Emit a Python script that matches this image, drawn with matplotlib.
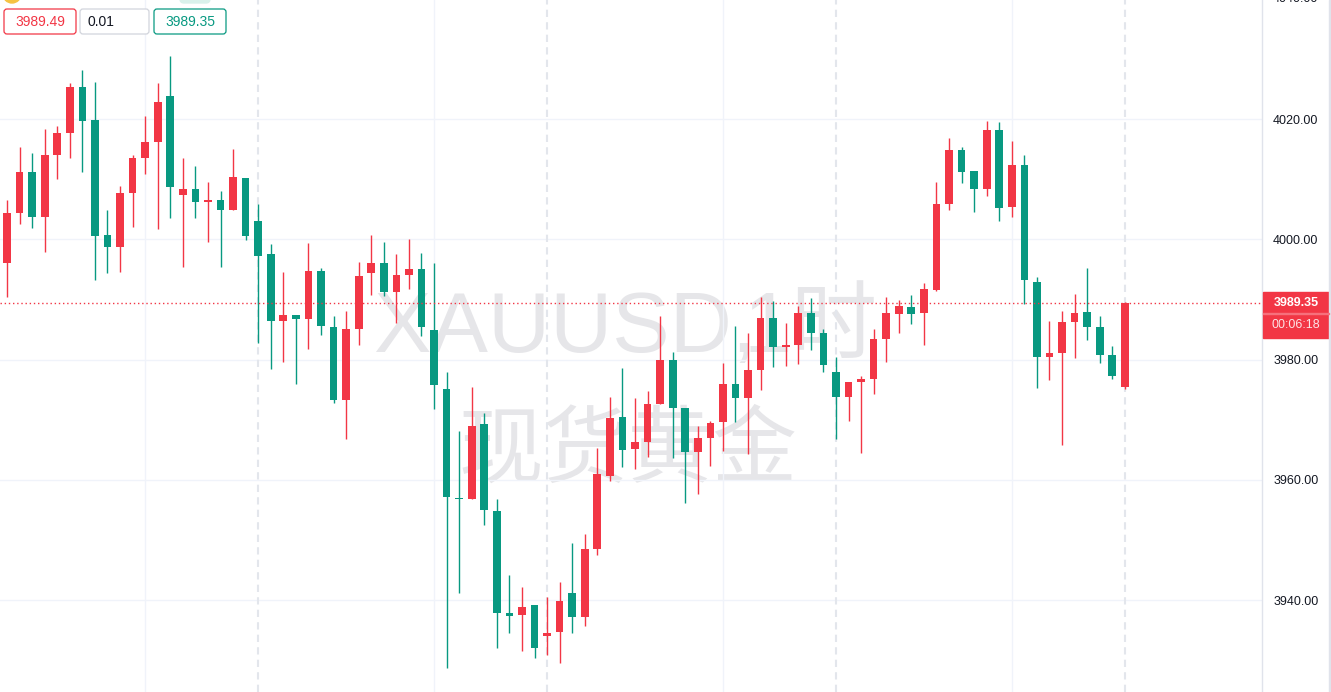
import matplotlib
matplotlib.use("Agg")
import matplotlib.pyplot as plt
import matplotlib.transforms as mtransforms
from matplotlib.patches import FancyBboxPatch, Rectangle, Ellipse

# ---------------- data (XAUUSD 1h candles) ----------------
opens = [3996.06, 4004.38, 4011.15, 4003.71, 4014.03, 4017.69, 4025.29, 4019.80, 4000.67, 3998.72,
         4007.70, 4013.53, 4016.19, 4023.79, 4007.37, 4008.32, 4006.21, 4006.49, 4004.88, 4010.15,
         4003.00, 3997.50, 3986.41, 3987.35, 3986.74, 3994.68, 3985.36, 3973.26, 3985.07, 3994.39,
         3996.01, 3991.23, 3994.06, 3995.01, 3984.86, 3975.04, 3956.96, 3956.79, 3969.22, 3954.74,
         3937.77, 3937.49, 3939.10, 3933.99, 3934.66, 3941.15, 3937.15, 3948.47, 3960.62, 3970.43,
         3965.11, 3966.27, 3972.60, 3979.87, 3971.88, 3964.61, 3966.94, 3969.60, 3975.87, 3973.59,
         3978.25, 3986.86, 3982.08, 3982.41, 3987.69, 3984.36, 3977.87, 3973.76, 3976.26, 3976.76,
         3983.41, 3987.57, 3988.69, 3987.74, 3991.56, 4005.87, 4014.81, 4011.31, 4008.37, 4018.14,
         4005.37, 4012.31, 3992.85, 3980.42, 3981.08, 3986.24, 3987.85, 3985.36, 3980.70, 3975.42]
highs = [4006.49, 4015.31, 4014.31, 4018.30, 4018.80, 4025.96, 4028.12, 4026.12, 4004.83, 4008.82,
         4013.98, 4020.47, 4025.96, 4030.45, 4013.48, 4012.15, 4009.48, 4007.99, 4014.98, 4010.15,
         4005.82, 3999.17, 3994.51, 3987.35, 3999.33, 3995.17, 3987.19, 3988.02, 3996.17, 4000.67,
         3999.50, 3997.50, 4000.00, 3997.67, 3996.01, 3977.87, 3968.05, 3975.37, 3971.05, 3956.74,
         3944.14, 3942.15, 3939.10, 3940.43, 3942.98, 3949.42, 3950.92, 3965.22, 3973.76, 3978.54,
         3973.59, 3974.71, 3987.19, 3981.20, 3971.88, 3968.89, 3969.72, 3979.37, 3985.52, 3984.36,
         3990.40, 3989.73, 3986.02, 3988.85, 3990.18, 3985.02, 3980.37, 3976.21, 3977.20, 3985.02,
         3990.35, 3989.85, 3990.68, 3992.68, 4009.48, 4016.81, 4015.31, 4011.31, 4019.63, 4019.47,
         4016.31, 4013.98, 3993.68, 3986.36, 3988.02, 3990.85, 3995.17, 3987.19, 3982.20, 3989.60]
lows = [3990.40, 4002.55, 4001.88, 3997.89, 4010.03, 4013.53, 4011.20, 3993.23, 3994.39, 3994.56,
        4002.05, 4010.87, 4001.71, 4003.54, 3995.39, 4003.54, 3999.55, 3995.39, 4004.88, 3999.88,
        3982.75, 3978.42, 3979.58, 3975.92, 3981.75, 3984.08, 3972.76, 3966.77, 3982.41, 3990.73,
        3990.57, 3986.07, 3991.73, 3983.91, 3971.76, 3928.74, 3941.15, 3956.79, 3952.46, 3932.00,
        3934.49, 3931.50, 3930.33, 3930.83, 3929.50, 3934.49, 3935.66, 3947.47, 3959.78, 3962.11,
        3961.78, 3963.78, 3972.60, 3963.61, 3956.12, 3957.62, 3962.28, 3964.78, 3969.60, 3964.28,
        3974.92, 3978.75, 3978.92, 3979.25, 3981.58, 3977.92, 3966.77, 3969.77, 3964.44, 3974.26,
        3979.58, 3984.41, 3985.91, 3982.41, 3991.40, 4004.88, 4009.37, 4004.54, 4007.20, 4003.04,
        4003.71, 3989.23, 3975.26, 3976.59, 3965.84, 3980.25, 3983.24, 3979.42, 3976.76, 3975.09]
closes = [4004.33, 4011.15, 4003.71, 4013.98, 4017.64, 4025.29, 4019.68, 4000.55, 3998.72, 4007.65,
          4013.48, 4016.14, 4022.80, 4008.70, 4008.32, 4006.21, 4006.49, 4004.88, 4010.32, 4000.55,
          3997.22, 3986.41, 3987.35, 3986.74, 3994.68, 3985.57, 3973.26, 3985.02, 3993.84, 3996.01,
          3991.23, 3994.01, 3995.01, 3985.41, 3975.76, 3957.12, 3956.74, 3968.93, 3954.96, 3937.82,
          3937.32, 3938.77, 3932.00, 3934.44, 3939.77, 3937.15, 3948.42, 3960.95, 3970.27, 3964.94,
          3966.22, 3972.55, 3979.87, 3971.93, 3964.61, 3966.89, 3969.38, 3975.87, 3973.59, 3978.20,
          3986.86, 3982.08, 3982.36, 3987.69, 3984.41, 3979.08, 3973.76, 3976.21, 3976.71, 3983.36,
          3987.69, 3988.85, 3987.57, 3991.68, 4005.82, 4014.81, 4011.20, 4008.37, 4018.14, 4005.21,
          4012.31, 3993.23, 3980.42, 3981.03, 3986.19, 3987.69, 3985.41, 3980.75, 3977.25, 3989.35]

price_ticks = [3940, 3960, 3980, 4000, 4020]
top_cut_tick = 4040
last_price = 3989.35
countdown = "00:06:18"
bid_text = "3989.49"
spread_text = "0.01"
ask_text = "3989.35"
symbol_part = "XAUUSD,"
interval_part = "1时"
name_line = "现货黄金"
solid_grid_idx = [11, 34, 57, 80]
dashed_grid_idx = [20, 43, 66, 89]

# ---------------- style ----------------
UP = "#F23645"
DOWN = "#089981"
GRID = "#f0f3fa"
DASH = "#e3e6ec"
TEXT = "#131722"
WM = "#e6e6e9"

W, H = 1331, 692
AX_W = 1262
fig = plt.figure(figsize=(W / 100, H / 100), dpi=100)
fig.patch.set_facecolor("white")
ax = fig.add_axes([0, 0, AX_W / W, 1])

step = 12.56
xmin = -7 / step
ax.set_xlim(xmin, xmin + AX_W / step)
ax.set_ylim(3924.71, 4039.80)

for s in ax.spines.values():
    s.set_visible(False)
ax.spines["right"].set_visible(True)
ax.spines["right"].set_color("#e0e3eb")
ax.spines["right"].set_linewidth(1.0)

ax.set_xticks([])
ax.yaxis.tick_right()
ax.set_yticks(price_ticks)
ax.set_yticklabels([f"{v:.2f}" for v in price_ticks])
ax.tick_params(axis="y", length=0, pad=8, labelsize=9, labelcolor=TEXT)
for lab in ax.get_yticklabels():
    lab.set_fontfamily("Liberation Sans")
label_tr = (mtransforms.blended_transform_factory(ax.transAxes, ax.transData)
            + mtransforms.ScaledTranslation(8 / 72, 0, fig.dpi_scale_trans))
ax.text(1.0, top_cut_tick, f"{top_cut_tick:.2f}", transform=label_tr,
        ha="left", va="center", fontsize=9, color=TEXT, family="Liberation Sans", clip_on=False)

# grid
for v in price_ticks:
    ax.axhline(v, color=GRID, lw=1.0, zorder=0)
for i in solid_grid_idx:
    ax.axvline(i, color=GRID, lw=1.0, zorder=0)
for i in dashed_grid_idx:
    ax.axvline(i, color=DASH, lw=1.5, ls=(0, (3.5, 2.5)), zorder=0)

# watermark
fig.text(373 / W, 1 - 352 / H, symbol_part, fontsize=62, color=WM, ha="left", va="baseline",
         family=["Liberation Sans", "Noto Sans CJK SC"], zorder=0.5)
fig.text(743 / W, 1 - 352 / H, interval_part, fontsize=62, color=WM, ha="left", va="baseline",
         family=["Liberation Sans", "Noto Sans CJK SC"], zorder=0.5)
fig.text(628 / W, 1 - 451 / H, name_line, fontsize=61, color=WM, ha="center", va="center",
         family=["Noto Sans CJK SC"], zorder=0.5)
ax.set_zorder(1)
ax.patch.set_alpha(0)

# candles
for i, (o, h, l, c) in enumerate(zip(opens, highs, lows, closes)):
    col = UP if c >= o else DOWN
    ax.vlines(i, l, h, color=col, lw=1.0, zorder=3)
    ax.bar(i, max(abs(c - o), 0.25), bottom=min(o, c), width=0.61, color=col, linewidth=0, zorder=4)

# last price line
ax.axhline(last_price, color=UP, lw=1.0, ls=(0, (1, 2)), zorder=5)

# price box on the axis
fig.canvas.draw()
py = ax.transData.transform((0, last_price))[1]  # display pixels from bottom
ident = mtransforms.IdentityTransform()
box_top = py + 11
box_bot = py - 35
fig.add_artist(Rectangle((AX_W + 1, box_bot), 66, box_top - box_bot, transform=ident, color=UP, zorder=10))
fig.add_artist(Rectangle((AX_W + 1, py - 10.5), 66, 0.8, transform=ident, color="#f6707c", zorder=11))
fig.text((AX_W + 34) / W, py / H, f"{last_price:.2f}", color="white", fontsize=9, fontweight="bold",
         ha="center", va="center", family="Liberation Sans", zorder=12)
fig.text((AX_W + 34) / W, (py - 21.5) / H, countdown, color="#fde3e5", fontsize=9,
         ha="center", va="center", family="Liberation Sans", zorder=12)

# right edge strip
fig.add_artist(Rectangle((W - 2, 0), 2, H, transform=ident, color="#e0e3eb", zorder=10))

# top-left quote badges
def badge(x0, x1, text, edge, tcolor, align="center"):
    y0, y1 = H - 34, H - 9
    fig.add_artist(FancyBboxPatch((x0 + 2, y0 + 2), (x1 - x0) - 4, (y1 - y0) - 4,
                                  boxstyle="round,pad=2,rounding_size=3", transform=ident,
                                  facecolor="white", edgecolor=edge, lw=0.9, zorder=10))
    if align == "center":
        fig.text((x0 + x1) / 2 / W, (y0 + y1) / 2 / H, text, color=tcolor, fontsize=10,
                 ha="center", va="center", family="Liberation Sans", zorder=11)
    else:
        fig.text((x0 + 8) / W, (y0 + y1) / 2 / H, text, color=tcolor, fontsize=10,
                 ha="left", va="center", family="Liberation Sans", zorder=11)

badge(4, 76, bid_text, UP, UP)
badge(80, 149, spread_text, "#d1d4dc", TEXT, align="left")
badge(154, 226, ask_text, DOWN, DOWN)

# partially visible icons at the very top
fig.add_artist(Ellipse((12, H + 6), 18, 18, transform=ident, color="#f5c342", zorder=10))
fig.add_artist(FancyBboxPatch((180, H - 3), 30, 10, boxstyle="round,pad=0,rounding_size=4",
                              transform=ident, color="#d9f1eb", zorder=10))

fig.savefig("out.png", dpi=100, facecolor="white")
